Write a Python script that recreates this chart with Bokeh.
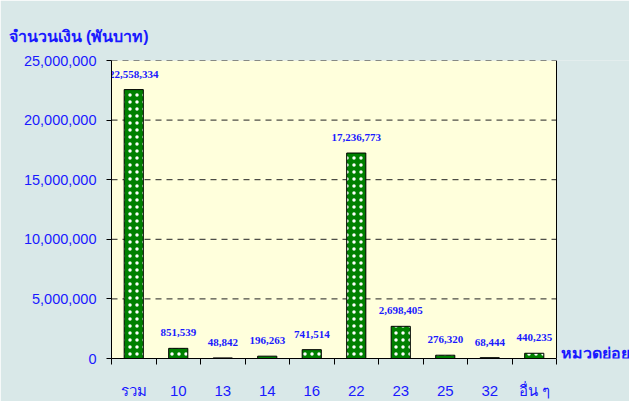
import re
from bokeh.plotting import figure
from bokeh.models import FixedTicker, Range1d, ColumnDataSource, NumeralTickFormatter
from bokeh.core.properties import value
from bokeh.embed import file_html
from bokeh.resources import INLINE

categories = ["รวม", "10", "13", "14", "16", "22", "23", "25", "32", "อื่น ๆ"]
amounts = [22558334, 851539, 48842, 196263, 741514, 17236773, 2698405, 276320, 68444, 440235]
y_ticks = [0, 5000000, 10000000, 15000000, 20000000, 25000000]
x_title = "หมวดย่อย"

BLUE = "#1a1aff"
BG = "#d9e8e8"
PLOT_BG = "#ffffdc"

n = len(categories)
centers = [i + 0.5 for i in range(n)]
bounds = list(range(n + 1))
labels_txt = [f"{v:,}" for v in amounts]
src = ColumnDataSource(dict(x=centers, top=amounts, label=labels_txt))

# frame spans past the last category so the category-axis name fits on the right
x_end = n * 518.0 / 445.0
p = figure(width=629, height=401, output_backend="svg", toolbar_location=None,
           x_range=Range1d(0, x_end), y_range=Range1d(0, y_ticks[-1]),
           min_border_left=111, min_border_right=0, min_border_top=60, min_border_bottom=42)

p.background_fill_color = BG
p.border_fill_color = BG
p.outline_line_color = None
p.xgrid.grid_line_color = None
p.ygrid.grid_line_color = None

# plot area
p.quad(left=0, right=n, bottom=0, top=y_ticks[-1], fill_color=PLOT_BG, line_color=None, level="underlay")
# dashed gridlines
p.segment(x0=[0] * (len(y_ticks) - 1), x1=[n] * (len(y_ticks) - 1), y0=y_ticks[1:], y1=y_ticks[1:],
          line_color="#222222", line_dash="6 5", line_width=1, level="underlay")
# right border of plot area
p.segment(x0=[n], x1=[n], y0=[0], y1=[y_ticks[-1]], line_color="black", line_width=1)

p.vbar(x="x", top="top", bottom=0, width=0.43, source=src,
       fill_color="#008000", line_color="black", line_width=1,
       hatch_pattern="dot", hatch_color="white", hatch_scale=7, hatch_weight=2)

p.text(x="x", y="top", text="label", source=src, text_align="center", text_baseline="bottom",
       y_offset=-12, text_font=value("Liberation Serif"), text_font_style="bold",
       text_font_size="11px", text_color=BLUE)

p.text(x=[n], y=[0], text=[x_title], x_offset=4, y_offset=3, text_baseline="bottom",
       text_align="left", text_font=value("Liberation Sans"), text_font_style="bold",
       text_font_size="16px", text_color=BLUE)

# y axis
p.yaxis.ticker = FixedTicker(ticks=y_ticks)
p.yaxis.formatter = NumeralTickFormatter(format="0,0")
p.yaxis.major_label_text_font = "Liberation Sans"
p.yaxis.major_label_text_font_size = "14.5px"
p.yaxis.major_label_text_color = BLUE
p.yaxis.major_tick_out = 5
p.yaxis.major_tick_in = 0
p.yaxis.minor_tick_out = 0
p.yaxis.minor_tick_in = 0
p.yaxis.major_label_standoff = 10
p.yaxis.axis_line_color = "black"
p.yaxis.major_tick_line_color = "black"

# x axis
p.xaxis.ticker = FixedTicker(ticks=centers, minor_ticks=bounds)
p.xaxis.bounds = (0, n)
p.xaxis.major_label_overrides = {c: cat for c, cat in zip(centers, categories)}
p.xaxis.major_tick_out = 0
p.xaxis.major_tick_in = 0
p.xaxis.minor_tick_out = 6
p.xaxis.minor_tick_in = 0
p.xaxis.minor_tick_line_color = "black"
p.xaxis.major_label_standoff = 17
p.xaxis.major_label_text_font = "Liberation Sans"
p.xaxis.major_label_text_font_size = "15px"
p.xaxis.major_label_text_color = BLUE
p.xaxis.axis_line_color = "black"

p.title.text = "จำนวนเงิน (พันบาท)"
p.title.align = "left"
p.title.offset = -103
p.title.standoff = 31
p.title.text_font = "Liberation Sans"
p.title.text_font_size = "16px"
p.title.text_font_style = "bold"
p.title.text_color = BLUE

html = file_html(p, INLINE)
html = re.sub(r"<body>", '<body style="background-color:%s;">' % BG, html, count=1)
open("out.html", "w").write(html)
